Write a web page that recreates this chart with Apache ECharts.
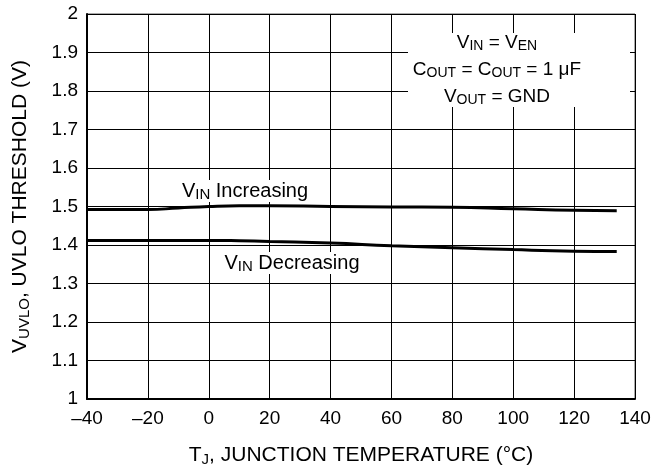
<!DOCTYPE html>
<html><head><meta charset="utf-8">
<script src="https://cdn.jsdelivr.net/npm/echarts@6/dist/echarts.min.js"></script>
<style>html,body{margin:0;padding:0;background:#fff}#c{width:661px;height:472px}</style>
</head><body><div id="c"></div>
<script>
const temps = [-40, -30, -20, -10, 0, 10, 20, 40, 60, 80, 100, 120, 134];
const vinIncreasing = [1.492, 1.492, 1.492, 1.496, 1.500, 1.502, 1.502, 1.500, 1.499, 1.498, 1.494, 1.490, 1.489];
const vinDecreasing = [1.412, 1.412, 1.412, 1.412, 1.412, 1.411, 1.409, 1.405, 1.398, 1.393, 1.388, 1.384, 1.383];
const xTicks = [-40, -20, 0, 20, 40, 60, 80, 100, 120, 140];
const yTicks = [1, 1.1, 1.2, 1.3, 1.4, 1.5, 1.6, 1.7, 1.8, 1.9, 2];

const F = 'Liberation Sans, Arial, sans-serif';
const chart = echarts.init(document.getElementById('c'));
const pair = (xs, ys) => xs.map((x, i) => [x, ys[i]]);
const rich = (size, sub, pad) => ({
  n: {fontFamily: F, fontSize: size, color: '#000', lineHeight: size + 2},
  s: {fontFamily: F, fontSize: sub, color: '#000', verticalAlign: 'bottom', padding: [pad, 0, 0, 0]}
});
chart.setOption({
  animation: false,
  grid: {left: 87, right: 26, top: 14, bottom: 73, show: true, borderColor: '#555', borderWidth: 1},
  xAxis: {
    type: 'value', min: xTicks[0], max: xTicks[xTicks.length - 1], interval: 20,
    axisLine: {show: true, onZero: false, lineStyle: {color: '#000', width: 2}},
    axisTick: {show: false},
    splitLine: {show: true, lineStyle: {color: '#000', width: 1}},
    axisLabel: {color: '#000', fontFamily: F, fontSize: 19, margin: 10,
      formatter: v => String(v).replace('-', '\u2013')},
    name: '{n|T}{s|J}{n|, JUNCTION TEMPERATURE (°C)}', nameLocation: 'middle', nameGap: 45,
    nameTextStyle: {rich: rich(21, 15, 8)}
  },
  yAxis: {
    type: 'value', min: yTicks[0], max: yTicks[yTicks.length - 1], interval: 0.1,
    axisLine: {show: true, onZero: false, lineStyle: {color: '#000', width: 2}},
    axisTick: {show: false},
    splitLine: {show: true, lineStyle: {color: '#000', width: 1}},
    axisLabel: {color: '#000', fontFamily: F, fontSize: 19, margin: 9,
      formatter: v => String(Math.round(v * 10) / 10)},
    name: '{n|V}{s|UVLO}{n|, UVLO THRESHOLD (V)}', nameLocation: 'middle', nameGap: 55, nameRotate: 90,
    nameTextStyle: {rich: rich(21, 15, 8)}
  },
  series: [
    {type: 'line', data: pair(temps, vinIncreasing), smooth: true, showSymbol: false,
      lineStyle: {color: '#000', width: 3}, z: 5},
    {type: 'line', data: pair(temps, vinDecreasing), smooth: true, showSymbol: false,
      lineStyle: {color: '#000', width: 3}, z: 5}
  ],
  graphic: [
    {type: 'rect', shape: {x: 408, y: 33, width: 222, height: 74}, style: {fill: '#fff'}, z: 10},
    {type: 'text', x: 497, y: 43, z: 11, style: {text: '{n|V}{s|IN}{n| = V}{s|EN}', align: 'center', verticalAlign: 'middle', rich: rich(19, 14, 7)}},
    {type: 'text', x: 497, y: 70, z: 11, style: {text: '{n|C}{s|OUT}{n| = C}{s|OUT}{n| = 1 μF}', align: 'center', verticalAlign: 'middle', rich: rich(19, 14, 7)}},
    {type: 'text', x: 497, y: 97, z: 11, style: {text: '{n|V}{s|OUT}{n| = GND}', align: 'center', verticalAlign: 'middle', rich: rich(19, 14, 7)}},
    {type: 'text', x: 245, y: 191, z: 11, style: {text: '{n|V}{s|IN}{n| Increasing}', align: 'center', verticalAlign: 'middle',
      backgroundColor: '#fff', padding: [0, 1, 0, 1], rich: rich(20, 15, 7)}},
    {type: 'text', x: 292, y: 263, z: 11, style: {text: '{n|V}{s|IN}{n| Decreasing}', align: 'center', verticalAlign: 'middle',
      backgroundColor: '#fff', padding: [0, 1, 0, 1], rich: rich(20, 15, 7)}}
  ]
});
</script></body></html>
